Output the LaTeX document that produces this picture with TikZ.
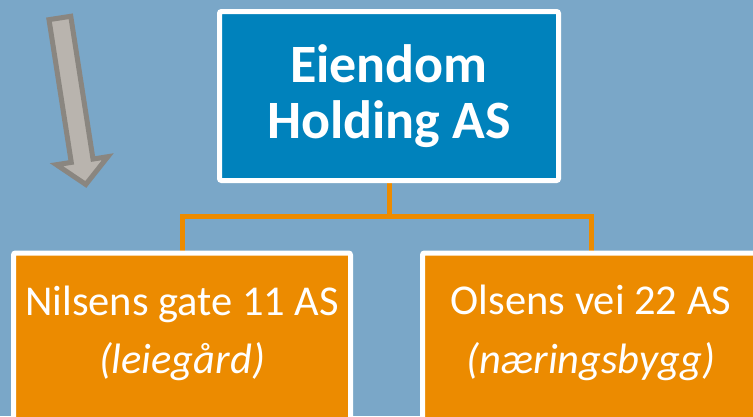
\documentclass[tikz,border=0pt]{standalone}
\usepackage{fontspec}
\setmainfont{Carlito}
\definecolor{bgblue}{RGB}{122,167,200}
\definecolor{boxblue}{RGB}{0,130,188}
\definecolor{boxorange}{RGB}{236,139,0}
\definecolor{arrowfill}{RGB}{185,180,174}
\definecolor{arrowline}{RGB}{138,134,128}
\pgfdeclarelayer{bg}
\pgfdeclarelayer{lines}
\pgfsetlayers{bg,lines,main}
\begin{document}
\begin{tikzpicture}[x=1pt,y=-1pt,
  parentbox/.style={draw=white, line width=5pt, fill=boxblue, rounded corners=2pt,
    inner sep=0pt, minimum width=339pt, minimum height=169pt, align=center,
    text=white, font=\fontsize{54}{56.7}\selectfont\bfseries},
  childbox/.style={draw=white, line width=5pt, fill=boxorange, rounded corners=2pt,
    inner sep=0pt, minimum width=337pt, minimum height=220pt, anchor=north},
  childname/.style={anchor=base, inner sep=0pt, text=white, font=\fontsize{42.5}{44}\selectfont},
  childkind/.style={anchor=base, inner sep=0pt, text=white, font=\fontsize{42.5}{44}\selectfont\itshape},
  link/.style={draw=boxorange, line width=5pt, line join=miter},
  bigarrow/.style={draw=arrowline, fill=arrowfill, line width=5pt, line join=miter}]
\useasboundingbox (0,0) rectangle (753,416);
\begin{pgfonlayer}{bg}
\fill[bgblue] (0,0) rectangle (753,416);
\end{pgfonlayer}
\clip (0,0) rectangle (753,416);
% arrow
\draw[bigarrow] (49.0,19.66) -- (70.76,16.28) -- (93.0,159.05) -- (107.8,156.7)
  -- (85.8,184.45) -- (56.45,164.7) -- (71.27,162.4) -- cycle;
% boxes
\node[parentbox] (holding) at (389,96) {Eiendom\\Holding AS};
\node[childbox] (nilsens) at (182,250.5) {};
\node[childbox] (olsens) at (591,250.5) {};
\node[childname] (nilsensA) at (182,315) {Nilsens gate 11 AS};
\node[childkind] (nilsensB) at (182,373) {(leiegård)};
\node[childname] (olsensA) at (591,314) {Olsens vei 22 AS};
\node[childkind] (olsensB) at (591,373) {(næringsbygg)};
% connectors
\coordinate (junction) at (389,216);
\begin{pgfonlayer}{lines}
\draw[link] (holding.south) -- (junction);
\draw[link] (nilsens.north) |- (junction) -| (olsens.north);
\end{pgfonlayer}
\end{tikzpicture}
\end{document}
